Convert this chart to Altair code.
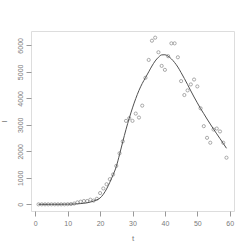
import altair as alt
import pandas as pd

t_vals = list(range(1, 60))
obs_I = [0, 0, 0, 0, 0, 0, 0, 0, 0,
         5, 10, 30, 75, 100, 125, 125, 175, 140, 210,
         425, 600, 760, 950, 1125, 1450, 1925, 2375, 3150, 3250,
         3150, 3425, 3275, 3725, 4775, 5450, 6175, 6290, 5740, 5225,
         5075, 5590, 6075, 6075, 5550, 4650, 4125, 4300, 4525, 4710,
         4450, 3625, 2950, 2510, 2325, 2825, 2860, 2750, 2325, 1760]
fit_I = [0, 0, 0, 0, 1, 1, 2, 3, 4, 6,
         9, 13, 19, 28, 40, 58, 85, 122, 170, 240,
         380, 580, 830, 1110, 1425, 1880, 2363, 2830, 3250, 3640,
         3990, 4300, 4560, 4780, 5000, 5220, 5410, 5550, 5640, 5645,
         5590, 5490, 5350, 5180, 4970, 4750, 4520, 4280, 4050, 3830,
         3615, 3420, 3220, 3030, 2840, 2660, 2480, 2300, 2115]
x_ticks = [0, 10, 20, 30, 40, 50, 60]
y_ticks = [0, 1000, 2000, 3000, 4000, 5000, 6000]

df = pd.DataFrame({"t": t_vals, "I": obs_I, "fit": fit_I})

xs = alt.Scale(domain=[-1.32, 61.32], nice=False, zero=False)
ys = alt.Scale(domain=[-251.6, 6541.6], nice=False, zero=False)

font = "Liberation Sans"
gray = "#7a7a7a"

xaxis = alt.Axis(values=x_ticks, format="d", grid=False, domain=False,
                 labelOverlap=False, labelFlush=False,
                 tickColor="#999999", tickSize=5, labelColor=gray, labelFontSize=7,
                 labelFont=font, labelPadding=3, title="t", titleColor=gray,
                 titleFont=font, titleFontSize=8, titleFontWeight="normal", titlePadding=8)
yaxis = alt.Axis(values=y_ticks, format="d", grid=False, domain=False,
                 labelOverlap=False, labelFlush=False,
                 tickColor="#999999", tickSize=5, labelColor=gray, labelFontSize=7,
                 labelFont=font, labelAngle=270, labelAlign="center", labelBaseline="bottom",
                 labelPadding=3, title="I", titleColor=gray, titleFont=font,
                 titleFontSize=8, titleFontWeight="normal", titlePadding=8)

pts = alt.Chart(df).mark_point(shape="circle", filled=False, size=10, color="#6a6a6a",
                               strokeWidth=0.8).encode(
    x=alt.X("t:Q", scale=xs, axis=xaxis),
    y=alt.Y("I:Q", scale=ys, axis=yaxis),
)
line = alt.Chart(df).mark_line(color="#505050", strokeWidth=1, interpolate="monotone").encode(
    x=alt.X("t:Q", scale=xs, axis=xaxis),
    y=alt.Y("fit:Q", scale=ys, axis=yaxis),
)

chart = (pts + line).properties(
    width=203, height=180,
    padding={"left": 31, "top": 31, "right": 16, "bottom": 39},
    autosize="none",
).configure_view(stroke="#aaaaaa", strokeWidth=1.2).configure(background="white")

chart.save("out.html", embed_options={"renderer": "svg", "actions": False})
